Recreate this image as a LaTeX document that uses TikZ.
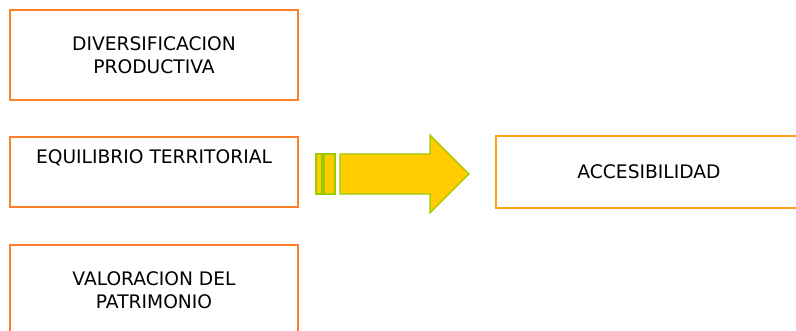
\documentclass[tikz,border=0pt]{standalone}
\usepackage{fontspec}
\setmainfont{DejaVu Sans}
\definecolor{boxorange}{RGB}{255,128,40}
\definecolor{accorange}{RGB}{255,163,26}
\definecolor{arrowfill}{RGB}{255,204,0}
\definecolor{arrowline}{RGB}{153,204,0}
\tikzset{every picture/.style={line width=0.75pt}}
\tikzset{
  objbox/.style={draw=boxorange, line width=1.5pt, fill=white, inner sep=0pt,
    minimum width=216pt, align=center, font=\fontsize{14}{17.25}\selectfont},
  accbox/.style={draw=accorange, line width=1.5pt, fill=white, inner sep=0pt,
    minimum width=229.5pt, minimum height=54pt, align=center, font=\fontsize{14}{17.25}\selectfont},
  blockarrow/.style={fill=arrowfill, draw=arrowline, line width=1pt, line join=miter}
}

\begin{document}
\begin{tikzpicture}[x=0.75pt,y=0.75pt,yscale=-1,xscale=1]
\useasboundingbox (0,0) rectangle (796,331);

% Text Node
\node (div) [objbox, minimum height=67.5pt] at (154,55) {DIVERSIFICACION\\PRODUCTIVA};
% Text Node
\node (equ) [objbox, minimum height=52.5pt] at (154,172) {EQUILIBRIO TERRITORIAL\\\strut};
% Text Node
\node (pat) [objbox, minimum height=67.5pt] at (154,290) {VALORACION DEL\\PATRIMONIO};
% Text Node
\node (acc) [accbox] at (649,172) {ACCESIBILIDAD};

% Block arrow
\draw [blockarrow] (316,154) rectangle (322,194) ;
\draw [blockarrow] (324,154) rectangle (335,194) ;
\draw [blockarrow] (340,154) -- (430,154) -- (430,135) -- (469,174) -- (430,213) -- (430,194) -- (340,194) -- cycle ;

\end{tikzpicture}
\end{document}
